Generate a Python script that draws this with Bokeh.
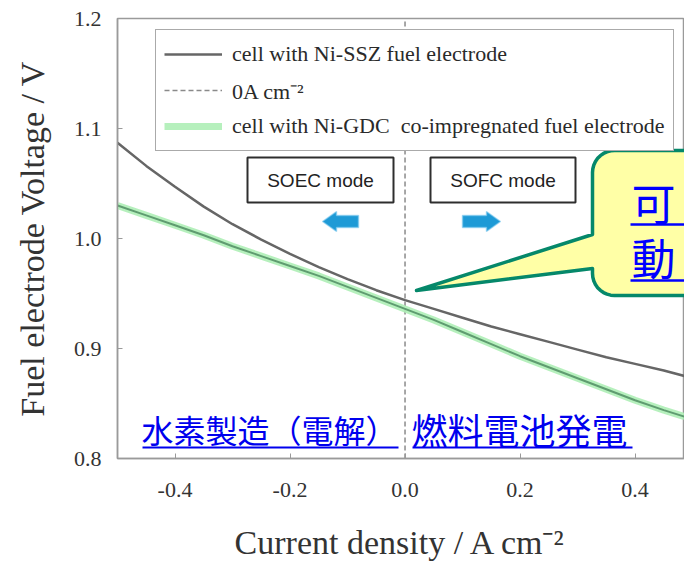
import numpy as np
from bokeh.plotting import figure
from bokeh.models import Range1d, FixedTicker, Legend, LegendItem
from bokeh.core.properties import value
from bokeh.embed import file_html
from bokeh.resources import INLINE

# ---------------- data ----------------
current_density = [-0.5, -0.45, -0.4, -0.35, -0.3, -0.25, -0.2, -0.15, -0.1, -0.05, 0.0,
                   0.05, 0.1, 0.15, 0.2, 0.25, 0.3, 0.35, 0.4, 0.45, 0.486]
voltage_ni_ssz = [1.087, 1.066, 1.047, 1.029, 1.013, 0.999, 0.986, 0.974, 0.963, 0.953, 0.944,
                  0.936, 0.928, 0.920, 0.913, 0.906, 0.899, 0.892, 0.886, 0.880, 0.875]
voltage_ni_gdc = [1.030, 1.021, 1.012, 1.003, 0.993, 0.984, 0.975, 0.966, 0.956, 0.946, 0.936,
                  0.926, 0.915, 0.904, 0.893, 0.883, 0.873, 0.863, 0.853, 0.844, 0.838]
zero_current_x = [0.0, 0.0]
zero_current_y = [0.8, 1.2]

x_ticks = [-0.4, -0.2, 0.0, 0.2, 0.4]
x_tick_labels = ["-0.4", "-0.2", "0.0", "0.2", "0.4"]
y_ticks = [0.8, 0.9, 1.0, 1.1, 1.2]
y_tick_labels = ["0.8", "0.9", "1.0", "1.1", "1.2"]

legend_labels = ["cell with Ni-SSZ fuel electrode", "0A cm\u207b\u00b2",
                 "cell with Ni-GDC  co-impregnated fuel electrode"]
mode_labels = ["SOEC mode", "SOFC mode"]
jp_labels = ["水素製造（電解）", "燃料電池発電"]
callout_lines = ["可", "動"]

X_MIN, X_MAX = -0.5, 0.486
Y_MIN, Y_MAX = 0.8, 1.2

W, H = 684, 564
# frame geometry (picture pixels) used to place annotations
FX0, FX1, FY0, FY1 = 117, 684, 18, 458


def px(xp):
    return X_MIN + (xp - FX0) / (FX1 - FX0) * (X_MAX - X_MIN)


def py(yp):
    return Y_MAX - (yp - FY0) / (FY1 - FY0) * (Y_MAX - Y_MIN)


p = figure(width=W, height=H, output_backend="svg", toolbar_location=None,
           x_range=Range1d(X_MIN, X_MAX), y_range=Range1d(Y_MIN, Y_MAX),
           min_border_left=FX0, min_border_right=W - FX1, min_border_top=FY0,
           min_border_bottom=H - FY1)
p.background_fill_color = "white"
p.border_fill_color = "white"
p.outline_line_color = "#9a9a9a"
p.outline_line_width = 1.5
p.xgrid.visible = False
p.ygrid.visible = False

# ---------------- curves ----------------
r_ssz = p.line(current_density, voltage_ni_ssz, line_color="#666666", line_width=2.5)
r_zero = p.line(zero_current_x, zero_current_y, line_color="#8a8a8a", line_width=1.5,
                line_dash="5 3")
r_gdc_halo = p.line(current_density, voltage_ni_gdc, line_color="#aeeeb6", line_width=7,
                    line_alpha=0.9)
p.line(current_density, voltage_ni_gdc, line_color="#5f9c70", line_width=2)

# ---------------- mode boxes, text, arrows ----------------
box_left = [px(247), px(430)]
box_right = [px(393), px(575)]
p.quad(left=box_left, right=box_right, top=[py(157)] * 2, bottom=[py(202)] * 2,
       fill_color="white", line_color="#2e2e2e", line_width=2)
p.text(x=[(a + b) / 2 for a, b in zip(box_left, box_right)], y=[py(180)] * 2,
       text=mode_labels, text_align="center", text_baseline="middle",
       text_font=value("Liberation Sans"), text_font_size="19px", text_color="#222222")


def block_arrow(tip, tail, yc, head_len=14, head_h=10, body_h=6):
    d = 1 if tail > tip else -1
    xs = [tip, tip + d * head_len, tip + d * head_len, tail, tail,
          tip + d * head_len, tip + d * head_len]
    ys = [yc, yc - head_h, yc - body_h, yc - body_h, yc + body_h, yc + body_h, yc + head_h]
    return [px(v) for v in xs], [py(v) for v in ys]


ax1, ay1 = block_arrow(322, 358, 221)
ax2, ay2 = block_arrow(500, 462, 221)
p.patches([ax1, ax2], [ay1, ay2], fill_color="#1e9ad6", line_color="#7cc8ee",
          line_width=1.5, line_alpha=0.6)

# ---------------- callout ----------------
L, T, B, R, rad = 592, 150, 295, 790, 22
pts = []
for (cx, cy, a0, a1) in [(L + rad, T + rad, np.pi, 1.5 * np.pi),
                         (R - rad, T + rad, 1.5 * np.pi, 2 * np.pi),
                         (R - rad, B - rad, 0, 0.5 * np.pi),
                         (L + rad, B - rad, 0.5 * np.pi, np.pi)]:
    for a in np.linspace(a0, a1, 10):
        pts.append((cx + rad * np.cos(a), cy + rad * np.sin(a)))
pts += [(L, 268), (416, 290), (L, 234)]
p.patch([px(a) for a, _ in pts], [py(b) for _, b in pts], fill_color="#ffffa6",
        line_color="#05886a", line_width=3.5, line_join="round")
p.text(x=[px(631)] * 2, y=[py(201), py(256)], text=callout_lines, text_align="left",
       text_baseline="middle", text_font=value("Noto Sans CJK JP"), text_font_size="44px",
       text_color="#0000ff")
p.segment(x0=[px(630)] * 2, x1=[px(700)] * 2, y0=[py(224), py(280)],
          y1=[py(224), py(280)], line_color="#0000ff", line_width=2.5)

# ---------------- Japanese labels ----------------
p.text(x=[px(141), px(411)], y=[py(428), py(428)], text=jp_labels, text_align="left",
       text_baseline="middle", text_font=value("Noto Sans CJK JP"),
       text_font_size=["32px", "36px"], text_color="#0000ee")
p.segment(x0=[px(142), px(412)], x1=[px(398), px(632)], y0=[py(447)] * 2,
          y1=[py(447)] * 2, line_color="#0000ee", line_width=2)

# ---------------- axes ----------------
for ax in (p.xaxis[0], p.yaxis[0]):
    ax.axis_line_color = "#9a9a9a"
    ax.axis_line_width = 1.5
    ax.major_tick_line_color = "#9a9a9a"
    ax.major_tick_in = 5
    ax.major_tick_out = 0
    ax.minor_tick_line_color = None
    ax.major_label_text_font = "Liberation Serif"
    ax.major_label_text_font_size = "22px"
    ax.major_label_text_color = "#333333"
    ax.axis_label_text_font = "Liberation Serif"
    ax.axis_label_text_font_size = "34px"
    ax.axis_label_text_font_style = "normal"
    ax.axis_label_text_color = "#333333"

p.xaxis.ticker = FixedTicker(ticks=x_ticks)
p.xaxis.major_label_overrides = dict(zip(x_ticks, x_tick_labels))
p.yaxis.ticker = FixedTicker(ticks=y_ticks)
p.yaxis.major_label_overrides = dict(zip(y_ticks, y_tick_labels))
p.xaxis.axis_label = "Current density / A cm\u207b\u00b2"
p.yaxis.axis_label = "Fuel electrode Voltage / V"
p.xaxis.major_label_standoff = 24
p.xaxis.axis_label_standoff = 24
p.yaxis.major_label_standoff = 16
p.yaxis.axis_label_standoff = 20

# ---------------- legend ----------------
legend = Legend(items=[LegendItem(label=legend_labels[0], renderers=[r_ssz]),
                       LegendItem(label=legend_labels[1], renderers=[r_zero]),
                       LegendItem(label=legend_labels[2], renderers=[r_gdc_halo])],
                location=(38, 307), orientation="vertical")
legend.label_text_font = "Liberation Serif"
legend.label_text_font_size = "22px"
legend.label_text_color = "#2a2a2a"
legend.border_line_color = "#555555"
legend.border_line_width = 1.5
legend.background_fill_alpha = 1.0
legend.glyph_width = 58
legend.glyph_height = 20
legend.label_standoff = 10
legend.label_height = 32
legend.padding = 8
legend.spacing = 4
legend.margin = 0
p.add_layout(legend)

open("out.html", "w").write(file_html(p, INLINE))
